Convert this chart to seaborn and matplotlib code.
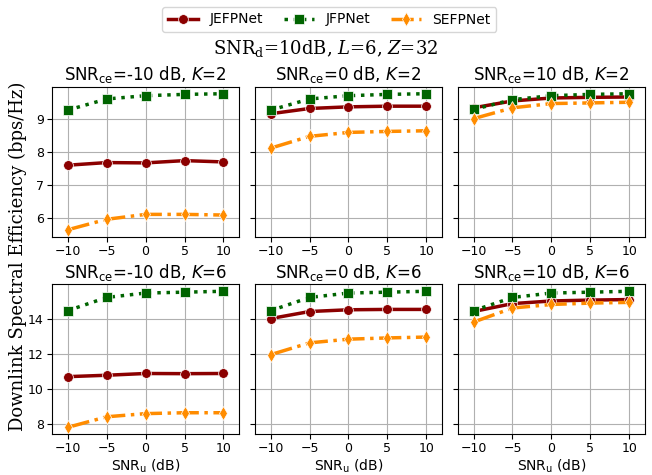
import numpy as np
import pandas as pd
import matplotlib
matplotlib.use("Agg")
import matplotlib.pyplot as plt
import seaborn as sns

snr_u = [-10, -5, 0, 5, 10]
methods = ["JEFPNet", "JFPNet", "SEFPNet"]
panel_titles = [
    r"SNR$_{\rm ce}$=-10 dB, $K$=2", r"SNR$_{\rm ce}$=0 dB, $K$=2", r"SNR$_{\rm ce}$=10 dB, $K$=2",
    r"SNR$_{\rm ce}$=-10 dB, $K$=6", r"SNR$_{\rm ce}$=0 dB, $K$=6", r"SNR$_{\rm ce}$=10 dB, $K$=6",
]

# K=2
jefp_k2_m10 = [7.60, 7.68, 7.67, 7.74, 7.70]
jfp_k2_m10 = [9.28, 9.62, 9.72, 9.76, 9.78]
sefp_k2_m10 = [5.63, 5.95, 6.10, 6.10, 6.08]
jefp_k2_0 = [9.17, 9.33, 9.38, 9.40, 9.40]
jfp_k2_0 = [9.28, 9.62, 9.72, 9.76, 9.78]
sefp_k2_0 = [8.12, 8.48, 8.60, 8.63, 8.65]
jefp_k2_10 = [9.35, 9.56, 9.65, 9.67, 9.68]
jfp_k2_10 = [9.30, 9.60, 9.72, 9.76, 9.78]
sefp_k2_10 = [9.02, 9.35, 9.48, 9.50, 9.52]
# K=6
jefp_k6_m10 = [10.70, 10.78, 10.88, 10.87, 10.88]
jfp_k6_m10 = [14.45, 15.20, 15.45, 15.50, 15.55]
sefp_k6_m10 = [7.82, 8.42, 8.60, 8.65, 8.65]
jefp_k6_0 = [14.00, 14.40, 14.50, 14.52, 14.52]
jfp_k6_0 = [14.45, 15.20, 15.45, 15.50, 15.55]
sefp_k6_0 = [11.95, 12.62, 12.83, 12.90, 12.95]
jefp_k6_10 = [14.40, 14.85, 15.00, 15.05, 15.08]
jfp_k6_10 = [14.45, 15.20, 15.45, 15.50, 15.55]
sefp_k6_10 = [13.80, 14.60, 14.80, 14.88, 14.92]

panels = [
    (jefp_k2_m10, jfp_k2_m10, sefp_k2_m10),
    (jefp_k2_0, jfp_k2_0, sefp_k2_0),
    (jefp_k2_10, jfp_k2_10, sefp_k2_10),
    (jefp_k6_m10, jfp_k6_m10, sefp_k6_m10),
    (jefp_k6_0, jfp_k6_0, sefp_k6_0),
    (jefp_k6_10, jfp_k6_10, sefp_k6_10),
]

styles = {
    "JEFPNet": dict(color="darkred", linestyle="-", marker="o"),
    "JFPNet": dict(color="darkgreen", linestyle=":", marker="s"),
    "SEFPNet": dict(color="darkorange", linestyle="-.", marker="d"),
}

fig, axes = plt.subplots(2, 3, figsize=(6.52, 4.75), dpi=100, sharey="row")
fig.subplots_adjust(left=0.080, right=0.989, top=0.817, bottom=0.086, wspace=0.086, hspace=0.32)

for idx, ax in enumerate(axes.flat):
    for m, vals in zip(methods, panels[idx]):
        df = pd.DataFrame({"snr": snr_u, "se": vals})
        sns.lineplot(data=df, x="snr", y="se", ax=ax, label=m, linewidth=2.5,
                     markersize=7, markeredgewidth=0.5, **styles[m])
    ax.set_title(panel_titles[idx], fontsize=12, pad=5)
    ax.set_xticks(snr_u)
    ax.grid(True, color="#b0b0b0", linewidth=0.8)
    ax.set_ylabel("")
    ax.tick_params(labelsize=9, pad=2.5)
    if idx >= 3:
        ax.set_xlabel(r"SNR$_\mathrm{u}$ (dB)", fontsize=10, labelpad=1.5)
    else:
        ax.set_xlabel("")
    ax.get_legend().remove()
    for s in ax.spines.values():
        s.set_color("black")
    ax.set_xlim(-12, 12)

axes[0, 0].set_yticks([6, 7, 8, 9])
axes[1, 0].set_yticks([8, 10, 12, 14])

handles, labels = axes[0, 0].get_legend_handles_labels()
fig.legend(handles, labels, loc="upper center", ncol=3, bbox_to_anchor=(0.505, 1.0),
           fontsize=10, columnspacing=1.5, handlelength=2.2, frameon=True)
fig.text(0.5, 0.898, r"SNR$_\mathrm{d}$=10dB, $L$=6, $Z$=32", ha="center", va="center",
         fontsize=13, family="DejaVu Serif", math_fontfamily="dejavuserif")
fig.text(0.028, 0.46, "Downlink Spectral Efficiency (bps/Hz)", rotation=90, ha="center",
         va="center", fontsize=13, family="DejaVu Serif")

fig.savefig("out.png", dpi=100)
